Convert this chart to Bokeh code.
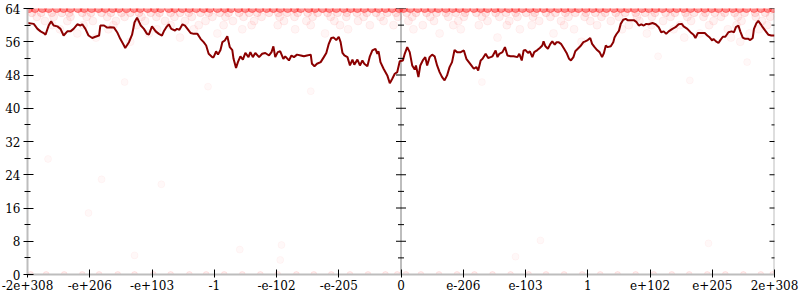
from bokeh.plotting import figure
from bokeh.models import Range1d, FixedTicker, Span
from bokeh.embed import file_html
from bokeh.resources import INLINE

# ---- data ----
x_tick_values = [-6, -5, -4, -3, -2, -1, 0, 1, 2, 3, 4, 5, 6]
x_tick_labels = ["-2e+308", "-e+206", "-e+103", "-1", "-e-102", "-e-205", "0",
                 "e-206", "e-103", "1", "e+102", "e+205", "2e+308"]
y_major = [0, 8, 16, 24, 32, 40, 48, 56, 64]
y_minor = [4, 12, 20, 28, 36, 44, 52, 60]

line_x = [-6.00, -5.90, -5.84, -5.79, -5.74, -5.71, -5.66, -5.62, -5.58, -5.52,
          -5.47, -5.42, -5.36, -5.31, -5.26, -5.20, -5.15, -5.12, -5.07, -5.02,
          -4.96, -4.91, -4.85, -4.83, -4.77, -4.72, -4.67, -4.61, -4.56, -4.51,
          -4.45, -4.43, -4.37, -4.32, -4.28, -4.24, -4.18, -4.13, -4.08,
          -4.05, -4.00, -3.94, -3.89, -3.84, -3.81, -3.77, -3.73, -3.69, -3.63,
          -3.60, -3.56, -3.51, -3.47, -3.43, -3.38, -3.33, -3.27, -3.22, -3.17,
          -3.13, -3.09, -3.03, -3.01, -2.97, -2.94, -2.90, -2.87, -2.83, -2.79,
          -2.75, -2.71, -2.69, -2.65, -2.62, -2.58, -2.54, -2.50, -2.45, -2.42,
          -2.38, -2.34, -2.28, -2.23, -2.18, -2.12, -2.08,
          -2.05, -2.02, -1.98, -1.94, -1.89, -1.86, -1.80, -1.76, -1.72, -1.67,
          -1.61, -1.56, -1.51, -1.45, -1.43, -1.39, -1.35, -1.29, -1.24, -1.20,
          -1.16, -1.12, -1.08, -1.04, -1.00, -0.97, -0.94, -0.91, -0.86, -0.82,
          -0.78, -0.75, -0.70, -0.66, -0.62, -0.59, -0.54, -0.50, -0.46, -0.41,
          -0.38, -0.36, -0.33, -0.28, -0.22, -0.18, -0.14, -0.10, -0.06, -0.02,
          0.03, 0.06, 0.10, 0.14, 0.18, 0.22, 0.24, 0.28, 0.31, 0.35,
          0.39, 0.42, 0.46, 0.50, 0.54, 0.58, 0.62, 0.66, 0.70, 0.74,
          0.78, 0.82, 0.86, 0.90, 0.96, 1.01, 1.05, 1.09, 1.13, 1.17,
          1.21, 1.24, 1.28, 1.31, 1.36, 1.40, 1.44, 1.47, 1.52, 1.55,
          1.58, 1.63, 1.67, 1.71, 1.76, 1.81, 1.87, 1.90, 1.94, 1.97,
          2.00, 2.04, 2.07, 2.11, 2.14, 2.19, 2.23, 2.27, 2.29, 2.32,
          2.36, 2.40, 2.43, 2.47, 2.50, 2.53, 2.57, 2.62, 2.66, 2.70,
          2.73, 2.77, 2.80, 2.84, 2.88, 2.93, 2.96, 3.00, 3.04, 3.07,
          3.11, 3.15, 3.19, 3.23, 3.26, 3.29, 3.32, 3.37, 3.41, 3.43,
          3.46, 3.50, 3.53, 3.57, 3.61, 3.64, 3.69, 3.74, 3.78, 3.82,
          3.86, 3.90, 3.94, 3.98,
          4.04, 4.09, 4.14, 4.18, 4.22, 4.26, 4.30, 4.36, 4.41, 4.46,
          4.51, 4.54, 4.60, 4.65, 4.70, 4.73, 4.77, 4.83, 4.88, 4.92,
          4.96, 5.00, 5.02, 5.06, 5.10, 5.13, 5.17, 5.21, 5.26, 5.31,
          5.35, 5.38, 5.42, 5.45, 5.49, 5.53, 5.58, 5.61, 5.65, 5.67,
          5.71, 5.74, 5.78, 5.81, 5.86, 5.90, 5.95, 6.00]
line_y = [60.5, 60.3, 59.1, 58.5, 58.1, 57.7, 59.9, 60.9, 59.9, 59.7,
          59.1, 57.5, 58.5, 58.5, 59.1, 60.2, 59.9, 60.2, 59.1, 57.5,
          56.9, 57.2, 57.5, 59.9, 59.9, 59.4, 59.5, 59.4, 58.3, 56.7,
          55.1, 54.5, 55.9, 57.7, 60.7, 61.8, 59.9, 59.1, 57.9,
          57.7, 59.7, 58.5, 57.9, 57.5, 58.5, 59.5, 60.2, 59.1, 58.7,
          59.1, 58.9, 60.2, 59.9, 59.1, 58.1, 57.9, 57.9, 56.7, 55.9,
          55.1, 53.1, 52.3, 52.3, 53.7, 52.9, 54.0, 55.9, 56.3, 57.3,
          54.7, 54.0, 51.9, 49.7, 51.1, 52.5, 51.7, 53.3, 52.3, 53.5,
          52.3, 53.3, 52.3, 53.1, 53.3, 52.7, 53.5,
          54.9, 52.3, 53.5, 53.7, 51.9, 52.5, 51.5, 52.7, 52.3, 52.9,
          52.7, 52.5, 52.7, 52.9, 50.7, 50.1, 50.7, 51.1, 52.3, 53.3,
          55.5, 56.9, 57.0, 56.4, 57.2, 55.9, 53.3, 52.7, 52.3, 50.3,
          51.7, 50.5, 51.7, 50.3, 51.5, 50.7, 50.1, 52.5, 53.9, 54.3,
          53.1, 53.7, 51.1, 49.5, 47.9, 46.0, 47.1, 48.3, 48.7, 51.3,
          51.5, 53.1, 54.7, 53.5, 50.3, 49.3, 50.3, 47.5, 50.3, 51.5,
          52.3, 50.3, 52.3, 52.9, 52.5, 50.3, 48.7, 47.5, 46.7, 47.9,
          49.9, 51.1, 54.0, 53.5, 53.5, 53.9, 51.9, 51.1, 50.3, 49.5,
          49.9, 49.1, 51.5, 51.9, 53.1, 52.1, 52.3, 52.5, 53.9, 52.3,
          53.1, 53.5, 54.7, 52.7, 52.5, 52.5, 52.3, 53.1, 51.5, 53.9,
          54.0, 53.3, 53.7, 52.3, 53.5, 54.0, 54.5, 55.1, 56.1, 54.9,
          54.3, 55.5, 56.1, 55.3, 55.9, 55.9, 55.5, 54.3, 53.3, 51.9,
          51.5, 52.3, 53.7, 54.3, 54.9, 55.9, 56.1, 56.4, 56.9, 55.5,
          54.7, 54.0, 53.5, 52.3, 53.3, 55.1, 54.7, 54.9, 55.9, 57.0,
          57.8, 58.6, 60.3, 61.3, 61.5, 61.2, 61.2, 61.2, 60.8, 59.9,
          60.2, 59.9, 60.3, 60.2,
          60.5, 60.2, 59.5, 58.3, 58.5, 57.9, 58.5, 59.1, 59.5, 60.2,
          60.3, 59.7, 59.1, 58.3, 57.7, 56.9, 58.1, 58.1, 58.1, 57.5,
          57.0, 56.3, 56.7, 56.1, 55.7, 56.4, 57.2, 57.2, 58.3, 58.5,
          58.3, 59.5, 59.9, 58.5, 57.0, 56.7, 56.7, 56.4, 56.9, 59.1,
          60.5, 61.0, 60.2, 59.5, 58.5, 57.7, 57.5, 57.5]

# sample points, grouped by their value
pts64_x = [-5.98, -5.88, -5.76, -5.66, -5.53, -5.42, -5.31, -5.19, -5.09, -4.97,
           -4.86, -4.75, -4.63, -4.53, -4.41, -4.29, -4.19, -4.07, -3.96, -3.86,
           -3.73, -3.63, -3.51, -3.40, -3.29, -3.17, -3.07, -2.95, -2.83, -2.73,
           -2.61, -2.50, -2.39, -2.27, -2.16, -2.05, -1.94, -1.82, -1.71, -1.61,
           -1.48, -1.38, -1.26, -1.15, -1.04, -0.92, -0.81, -0.70, -0.59, -0.47,
           -0.36, -0.25, -0.14, -0.03, 0.04, 0.15, 0.27, 0.38, 0.49, 0.60,
           0.72, 0.83, 0.94, 1.05, 1.17, 1.28, 1.39, 1.51, 1.61, 1.73,
           1.84, 1.95, 2.07, 2.18, 2.29, 2.40, 2.52, 2.63, 2.74, 2.85,
           2.97, 3.08, 3.19, 3.30, 3.42, 3.53, 3.64, 3.75, 3.87, 3.98,
           4.09, 4.20, 4.32, 4.43, 4.54, 4.65, 4.77, 4.88, 4.99, 5.10,
           5.22, 5.33, 5.44, 5.55, 5.67, 5.78, 5.89, 5.98]
pts63_x = [-5.93, -5.78, -5.61, -5.45, -5.33, -5.12, -4.98, -4.81, -4.66, -4.49,
           -4.35, -4.21, -4.02, -3.88, -3.70, -3.55, -3.41, -3.22, -3.09, -2.91,
           -2.77, -2.60, -2.44, -2.31, -2.12, -1.97, -1.83, -1.66, -1.50, -1.34,
           -1.18, -1.02, -0.87, -0.71, -0.55, -0.40, -0.22, -0.08, 0.09, 0.24,
           0.41, 0.57, 0.72, 0.88, 1.03, 1.21, 1.36, 1.52, 1.69, 1.84,
           2.01, 2.15, 2.33, 2.48, 2.64, 2.80, 2.97, 3.12, 3.28, 3.45,
           3.60, 3.77, 3.92, 4.08, 4.25, 4.40, 4.57, 4.71, 4.89, 5.04,
           5.20, 5.36, 5.52, 5.69, 5.85]
pts62_x = [-5.85, -5.58, -5.31, -5.05, -4.72, -4.44, -4.17, -3.93, -3.64, -3.36,
           -3.03, -2.82, -2.53, -2.24, -1.95, -1.71, -1.42, -1.13, -0.88, -0.60,
           -0.33, -0.05, 0.18, 0.47, 0.76, 1.01, 1.30, 1.58, 1.87, 2.12,
           2.40, 2.69, 2.95, 3.22, 3.50, 3.79, 4.03, 4.33, 4.60, 4.86,
           5.14, 5.41, 5.70, 5.93]
pts61_x = [-5.72, -5.36, -4.95, -4.58, -4.11, -3.79, -3.47, -3.14, -2.70, -2.36,
           -1.88, -1.52, -1.07, -0.69, -0.28, 0.12, 0.53, 0.92, 1.39, 1.74,
           2.22, 2.57, 3.04, 3.37, 3.83, 4.21, 4.66, 5.02, 5.47, 5.80]
pts60_x = [-5.60, -5.10, -4.62, -4.25, -3.70, -3.25, -2.85, -2.40, -1.98, -1.45,
           -0.98, -0.50, -0.12, 0.35, 0.84, 1.25, 1.70, 2.10, 2.62, 3.15,
           3.66, 4.02, 4.48, 4.95, 5.39, 5.88]
pts59_x = [-5.48, -4.70, -3.92, -3.33, -2.55, -1.70, -0.85, 0.20, 0.96, 1.91,
           2.78, 3.55, 4.38, 5.25, 5.75]
pts58_x = [-5.20, -4.05, -2.95, -1.22, 0.62, 2.45, 3.95, 4.80, 5.60]
pts57_x = [-4.90, -3.55, 1.55, 4.55, 5.30]
pts56_x = [-4.35, 2.90, 5.45]
pts0_x = [-5.95, -5.70, -5.41, -5.12, -4.85, -4.55, -4.28, -3.98, -3.70, -3.40,
          -3.13, -2.84, -2.55, -2.26, -1.98, -1.68, -1.40, -1.12, -0.82, -0.53,
          -0.25, -0.06, 0.08, 0.32, 0.61, 0.90, 1.18, 1.47, 1.76, 2.05,
          2.33, 2.62, 2.91, 3.20, 3.48, 3.77, 4.06, 4.35, 4.63, 4.92,
          5.21, 5.50, 5.78, 5.97]
stray_x = [-4.44, -5.67, -4.81, -3.85, -5.02, -4.28, -2.59, -1.92, -1.94, 1.84,
           4.94, 2.24, -3.10, 5.56, 4.64, 4.13, -1.45, 1.30]
stray_y = [46.3, 27.8, 22.9, 21.7, 14.8, 4.6, 6.0, 7.1, 3.5, 4.3,
           7.5, 8.2, 45.2, 51.1, 46.7, 52.5, 44.1, 46.3]

# ---- figure ----
p = figure(width=800, height=300, output_backend="svg", toolbar_location=None,
           x_range=Range1d(-6, 6), y_range=Range1d(0, 64),
           min_border_left=27, min_border_right=26, min_border_top=8,
           min_border_bottom=26, outline_line_color=None,
           background_fill_color="white", border_fill_color="white")
p.grid.visible = False

AXIS_GRAY = "#bdbdbd"
FONT = "DejaVu Serif"

p.xaxis.ticker = FixedTicker(ticks=x_tick_values)
p.xaxis.major_label_overrides = {v: s for v, s in zip(x_tick_values, x_tick_labels)}
p.yaxis.ticker = FixedTicker(ticks=y_major, minor_ticks=y_minor)

for ax in p.xaxis:
    ax.axis_line_color = AXIS_GRAY
    ax.axis_line_width = 2
    ax.major_tick_line_color = "black"
    ax.major_tick_in = 5
    ax.major_tick_out = 3
    ax.minor_tick_line_color = None
    ax.major_label_standoff = 2
    ax.major_label_text_font = FONT
    ax.major_label_text_font_size = "12px"
    ax.major_label_text_color = "black"

for ax in p.yaxis:
    ax.axis_line_color = AXIS_GRAY
    ax.axis_line_width = 2
    ax.major_tick_line_color = "black"
    ax.major_tick_in = 6
    ax.major_tick_out = 4
    ax.minor_tick_line_color = "black"
    ax.minor_tick_in = 3
    ax.minor_tick_out = 3
    ax.major_label_standoff = 3
    ax.major_label_text_font = FONT
    ax.major_label_text_font_size = "12px"
    ax.major_label_text_color = "black"

RED = "#ff1a1a"
rows = [(pts64_x, 64, 0.45, 8), (pts63_x, 63, 0.10, 8), (pts62_x, 62, 0.07, 8),
        (pts61_x, 61, 0.06, 8), (pts60_x, 60, 0.05, 8), (pts59_x, 59, 0.045, 8),
        (pts58_x, 58, 0.04, 8), (pts57_x, 57, 0.04, 8), (pts56_x, 56, 0.04, 8),
        (pts0_x, 0, 0.08, 6)]
for xs, yv, a, s in rows:
    p.scatter(xs, [yv] * len(xs), size=s, color=RED, alpha=a)
p.scatter(stray_x, stray_y, size=7, color=RED, alpha=0.03)

p.line(line_x, line_y, line_color="#8b0000", line_width=2)

# centre and right-hand axis lines with crossing ticks
for loc in (0, 6):
    p.add_layout(Span(location=loc, dimension="height", line_color=AXIS_GRAY,
                      line_width=2, level="underlay"))
    p.scatter([loc] * len(y_major), y_major, marker="dash", size=10,
              line_color="black", line_width=1)
    p.scatter([loc] * len(y_minor), y_minor, marker="dash", size=6,
              line_color="black", line_width=1)

open("out.html", "w").write(file_html(p, INLINE))
